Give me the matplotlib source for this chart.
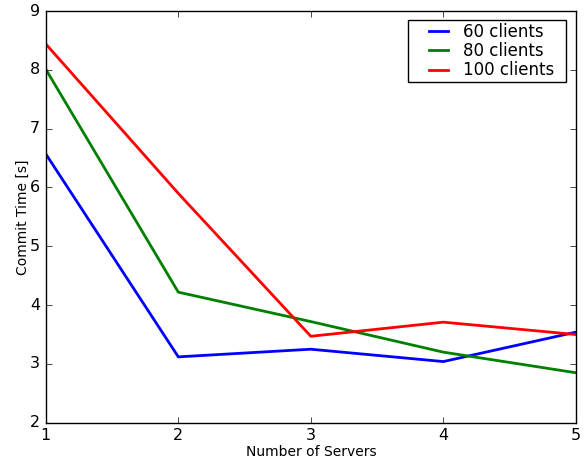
import matplotlib
matplotlib.use('Agg')
import matplotlib.pyplot as plt
from matplotlib.legend_handler import HandlerLine2D
from matplotlib.lines import Line2D

plt.style.use('classic')

servers = [1, 2, 3, 4, 5]
clients_60 = [6.57, 3.12, 3.25, 3.04, 3.54]
clients_80 = [8.01, 4.22, 3.72, 3.20, 2.85]
clients_100 = [8.44, 5.90, 3.47, 3.71, 3.50]

fig = plt.figure(figsize=(5.87, 4.59), dpi=100)
ax = fig.add_axes([0.078, 0.079, 0.903, 0.897])

ax.plot(servers, clients_60, color='b', linewidth=2, label='60 clients')
ax.plot(servers, clients_80, color='g', linewidth=2, label='80 clients')
ax.plot(servers, clients_100, color='r', linewidth=2, label='100 clients')

ax.set_xlim(1, 5)
ax.set_ylim(2, 9)
ax.set_xticks(servers)
ax.set_xlabel('Number of Servers', fontsize=10, labelpad=1)
ax.set_ylabel('Commit Time [s]', fontsize=10, labelpad=0)
ax.tick_params(labelsize=11.5)

# old-style legend: wider box, handle inset from the left edge
ax.legend(loc='upper left', bbox_to_anchor=(0.683, 0.83, 0.298, 0.148), mode='expand',
          borderaxespad=0, fontsize=12, handlelength=2.51, handletextpad=0.6,
          labelspacing=0.07, borderpad=0.18,
          handler_map={Line2D: HandlerLine2D(xpad=0.77)})

fig.savefig('out.png', dpi=100, facecolor='white')
